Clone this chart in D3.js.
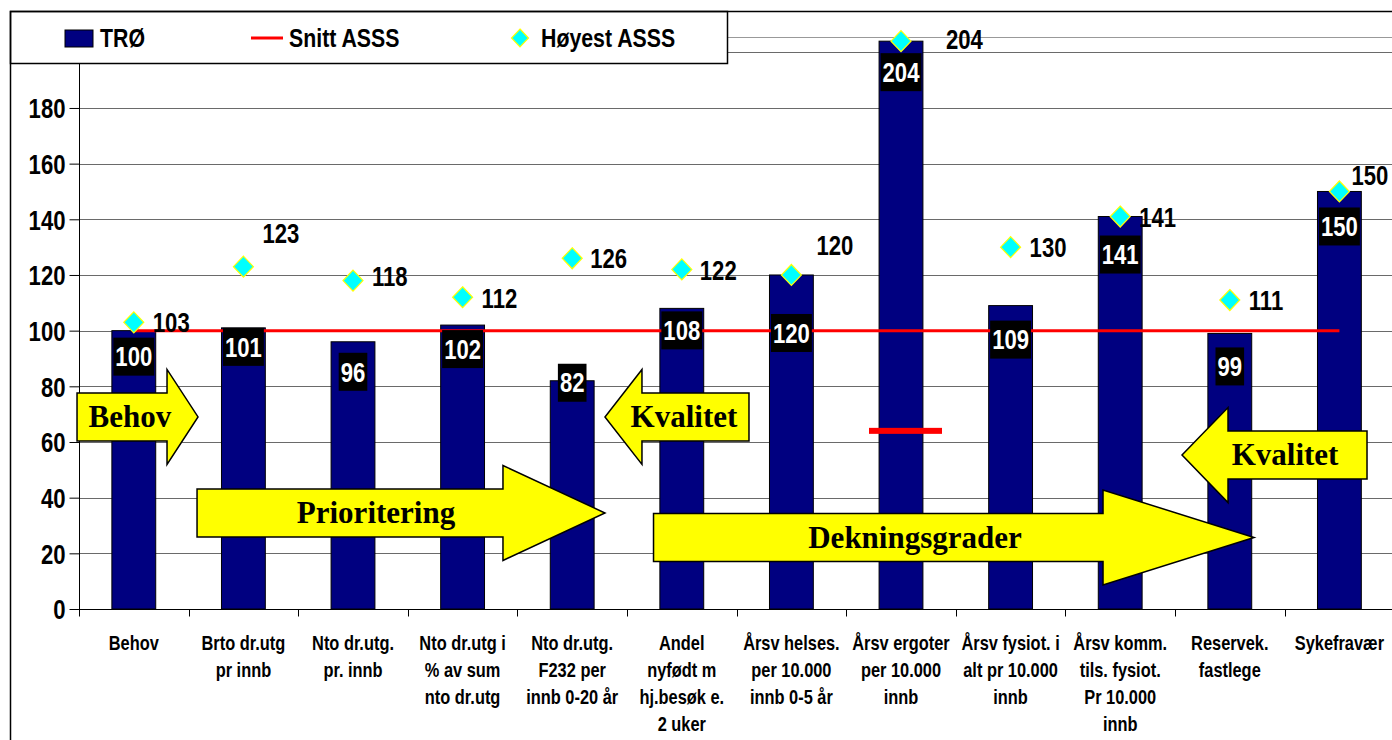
<!DOCTYPE html>
<html><head><meta charset="utf-8">
<script src="https://cdn.jsdelivr.net/npm/d3@7"></script>
<style>body{margin:0;background:#fff}svg{display:block}</style>
</head><body><svg id="c" width="1392" height="740"></svg>
<script>
// ---------- data ----------
const categories = [
  "Behov",
  "Brto dr.utg\npr innb",
  "Nto dr.utg.\npr. innb",
  "Nto dr.utg i\n% av sum\nnto dr.utg",
  "Nto dr.utg.\nF232 per\ninnb 0-20 år",
  "Andel\nnyfødt m\nhj.besøk e.\n2 uker",
  "Årsv helses.\nper 10.000\ninnb 0-5 år",
  "Årsv ergoter\nper 10.000\ninnb",
  "Årsv fysiot. i\nalt pr 10.000\ninnb",
  "Årsv komm.\ntils. fysiot.\nPr 10.000\ninnb",
  "Reservek.\nfastlege",
  "Sykefravær"
];
const troValues    = [100, 101, 96, 102, 82, 108, 120, 204, 109, 141, 99, 150];
const snittValues  = [100, 100, 100, 100, 100, 100, 100, 100, 100, 100, 100, 100];
const hoyestValues = [103, 123, 118, 112, 126, 122, 120, 204, 130, 141, 111, 150];
const snittErgoterIndex = 7;
const snittErgoterValue = 64;
const yTicks = [0, 20, 40, 60, 80, 100, 120, 140, 160, 180, 200];
const seriesNames = ["TRØ", "Snitt ASSS", "Høyest ASSS"];
const arrowLabels = ["Behov", "Prioritering", "Kvalitet", "Dekningsgrader", "Kvalitet"];

// ---------- layout (positions in chart units: x = category index units, y = value) ----------
const arrowLayout = [
  {dir: "right", tail: -0.018, tip: 1.086, head: 31,  value: 69.0, textAt: 0.465},
  {dir: "right", tail: 1.077,  tip: 4.799, head: 102, value: 34.5, textAt: 2.710},
  {dir: "left",  tail: 6.113,  tip: 4.799, head: 37,  value: 69.0, textAt: 5.520},
  {dir: "right", tail: 5.242,  tip: 10.721, head: 151, value: 25.7, textAt: 7.628},
  {dir: "left",  tail: 11.752, tip: 10.064, head: 46, value: 55.3, textAt: 11.004}
];
const barLabelDrop = [26, 19, 30, 24, 2, 22, 58, 31, 34, 38, 33, 35];
const hoyLabelOffset = [[19,0],[19,-33],[19,-4],[19,1],[18,0],[18,1],[25,-30],[45,-2],[19,0],[19,1],[19,0],[12,-16]];

const NARROW = "'Liberation Sans Narrow','Arial Narrow',sans-serif";
const SERIF = "'Liberation Serif','Times New Roman',serif";
const NAVY = "#000080";

const svg = d3.select("#c");
const x = d3.scaleBand().domain(d3.range(categories.length)).range([79, 1394.2]).padding(0);
const y = d3.scaleLinear().domain([0, 200]).range([609, 52.3]);
const xu = u => x.range()[0] + u * x.step();
const cx = i => x(i) + x.bandwidth() / 2;
const barW = x.step() * 0.4;
const X0 = x.range()[0], X1 = 1392;

// narrow-font fallback detection
let narrowScale = 1;
(function(){
  const t1 = svg.append("text").attr("font-family", NARROW).attr("font-size", 100).text("Snitt ASSS Høyest");
  const t2 = svg.append("text").attr("font-family", "'Liberation Sans',sans-serif").attr("font-size", 100).text("Snitt ASSS Høyest");
  const w1 = t1.node().getComputedTextLength(), w2 = t2.node().getComputedTextLength();
  if (Math.abs(w1 - w2) < 1) narrowScale = 0.82;
  t1.remove(); t2.remove();
})();
function narrow(sel){
  sel.attr("font-family", NARROW).attr("font-weight", "bold");
  if (narrowScale !== 1) sel.attr("transform", function(){
    const xx = +this.getAttribute("x") || 0;
    return `translate(${xx},0) scale(${narrowScale},1) translate(${-xx},0)`;
  });
  return sel;
}

// plot top border
svg.append("line").attr("x1", X0).attr("x2", X1).attr("y1", 37.5).attr("y2", 37.5).attr("stroke", "#999");

// gridlines
svg.append("g").selectAll("line").data(yTicks.filter(v => v > 0)).join("line")
  .attr("x1", X0).attr("x2", X1)
  .attr("y1", d => Math.round(y(d)) + 0.5).attr("y2", d => Math.round(y(d)) + 0.5)
  .attr("stroke", "#6a6a6a").attr("stroke-width", 1);

// y axis
const yAxis = svg.append("g").attr("transform", `translate(${X0 + 0.5},0)`)
  .call(d3.axisLeft(y).tickValues(yTicks).tickSize(10).tickPadding(4).tickFormat(d3.format("d")));
yAxis.select(".domain").attr("stroke", "#000").attr("d", `M0,${y(0)}V37.5`);
yAxis.selectAll(".tick line").attr("stroke", "#000");
yAxis.selectAll(".tick text").attr("font-size", 27).attr("fill", "#000").attr("dy", "0.36em")
  .each(function(){ narrow(d3.select(this)); });

// x axis
const xAxis = svg.append("g").attr("transform", `translate(0,${Math.round(y(0)) + 0.5})`);
xAxis.append("line").attr("x1", X0).attr("x2", X1).attr("stroke", "#000").attr("stroke-width", 1.2);
xAxis.selectAll("line.tk").data(d3.range(categories.length + 1)).join("line").attr("class", "tk")
  .attr("x1", i => Math.round(xu(i)) + 0.5).attr("x2", i => Math.round(xu(i)) + 0.5)
  .attr("y1", 0).attr("y2", 7).attr("stroke", "#000");
const catG = svg.append("g");
categories.forEach((c, i) => {
  c.split("\n").forEach((ln, k) => {
    const t = catG.append("text").attr("x", cx(i)).attr("y", 643 + k * 27).attr("dy", "0.35em")
      .attr("text-anchor", "middle").attr("font-size", 20).attr("fill", "#000").text(ln);
    narrow(t);
  });
});

// bars
svg.append("g").selectAll("rect").data(troValues).join("rect")
  .attr("x", (d, i) => cx(i) - barW / 2).attr("width", barW)
  .attr("y", d => y(d)).attr("height", d => y(0) - y(d))
  .attr("fill", NAVY).attr("stroke", "#000").attr("stroke-width", 1);

// snitt line
svg.append("path").datum(snittValues)
  .attr("d", d3.line().x((d, i) => cx(i)).y(d => y(d)))
  .attr("fill", "none").attr("stroke", "#ff0000").attr("stroke-width", 3);

// snitt ergoter marker
svg.append("rect")
  .attr("x", cx(snittErgoterIndex) - 32).attr("width", 73)
  .attr("y", y(snittErgoterValue) - 3).attr("height", 6).attr("fill", "#ff0000");

// bar labels (white on black)
const bl = svg.append("g");
troValues.forEach((v, i) => {
  const yc = y(v) + barLabelDrop[i];
  const t = bl.append("text").attr("x", cx(i)).attr("y", yc).attr("dy", "0.36em")
    .attr("text-anchor", "middle").attr("font-size", 27).attr("fill", "#fff").text(v);
  narrow(t);
  const w = t.node().getComputedTextLength() * narrowScale;
  bl.insert("rect", () => t.node())
    .attr("x", cx(i) - w / 2 - 2).attr("width", w + 4)
    .attr("y", yc - 19).attr("height", 38).attr("fill", "#000");
});

// høyest diamonds
const diamond = "M0,-10.5L10,0L0,10.5L-10,0Z";
svg.append("g").selectAll("path").data(hoyestValues).join("path")
  .attr("d", diamond).attr("transform", (d, i) => `translate(${cx(i)},${y(d)})`)
  .attr("fill", "#00ffff").attr("stroke", "#ffff00").attr("stroke-width", 1.2);
const hl = svg.append("g");
hoyestValues.forEach((v, i) => {
  const t = hl.append("text").attr("x", cx(i) + hoyLabelOffset[i][0]).attr("y", y(v) + hoyLabelOffset[i][1])
    .attr("dy", "0.36em").attr("font-size", 27).attr("fill", "#000").text(v);
  narrow(t);
});

// block arrows
const ag = svg.append("g");
arrowLayout.forEach((a, k) => {
  const yc = y(a.value), bh = 24, hh = 47.5;
  const tail = xu(a.tail), tip = xu(a.tip);
  const s = a.dir === "right" ? 1 : -1;
  const base = tip - s * a.head;
  const pts = [[tail, yc - bh], [base, yc - bh], [base, yc - hh], [tip, yc], [base, yc + hh], [base, yc + bh], [tail, yc + bh]];
  ag.append("path").attr("d", "M" + pts.map(p => p.join(",")).join("L") + "Z")
    .attr("fill", "#ffff00").attr("stroke", "#000").attr("stroke-width", 1.5).attr("stroke-linejoin", "miter");
  ag.append("text").attr("x", xu(a.textAt)).attr("y", yc).attr("dy", "0.33em")
    .attr("text-anchor", "middle").attr("font-family", SERIF).attr("font-weight", "bold")
    .attr("font-size", 31).attr("fill", "#000").text(arrowLabels[k]);
});

// legend
const lg = svg.append("g");
lg.append("rect").attr("x", 10.5).attr("y", 11.5).attr("width", 717).attr("height", 52)
  .attr("fill", "#fff").attr("stroke", "#000").attr("stroke-width", 1.5);
lg.append("rect").attr("x", 65).attr("y", 30).attr("width", 28).attr("height", 17).attr("fill", NAVY).attr("stroke", "#000");
narrow(lg.append("text").attr("x", 100).attr("y", 38).attr("dy", "0.36em").attr("font-size", 26).text(seriesNames[0]));
lg.append("line").attr("x1", 251).attr("x2", 283).attr("y1", 38).attr("y2", 38).attr("stroke", "#ff0000").attr("stroke-width", 3);
narrow(lg.append("text").attr("x", 289).attr("y", 38).attr("dy", "0.36em").attr("font-size", 26).text(seriesNames[1]));
lg.append("path").attr("d", "M0,-9L8.5,0L0,9L-8.5,0Z").attr("transform", "translate(520,38)")
  .attr("fill", "#00ffff").attr("stroke", "#ffff00").attr("stroke-width", 1.2);
narrow(lg.append("text").attr("x", 541).attr("y", 38).attr("dy", "0.36em").attr("font-size", 26).text(seriesNames[2]));

// outer frame
svg.append("rect").attr("x", 10.5).attr("y", 11.5).attr("width", 1400).attr("height", 740)
  .attr("fill", "none").attr("stroke", "#000").attr("stroke-width", 1.5);
</script>
</body></html>
